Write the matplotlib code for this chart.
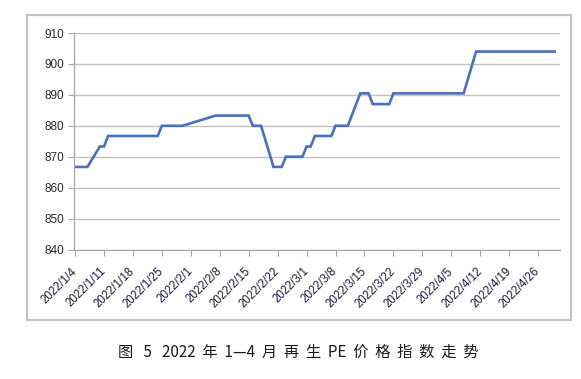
import numpy as np
import pandas as pd
import matplotlib
matplotlib.use("Agg")
import matplotlib.pyplot as plt
import matplotlib.dates as mdates
from matplotlib.patches import Rectangle

# breakpoints of the PE price index line
dates = ["2022-01-04", "2022-01-07", "2022-01-10", "2022-01-11", "2022-01-12",
         "2022-01-24", "2022-01-25", "2022-01-30", "2022-02-07", "2022-02-15",
         "2022-02-16", "2022-02-18", "2022-02-21", "2022-02-23", "2022-02-24",
         "2022-02-28", "2022-03-01", "2022-03-02", "2022-03-03", "2022-03-07",
         "2022-03-08", "2022-03-11", "2022-03-14", "2022-03-16", "2022-03-17",
         "2022-03-21", "2022-03-22", "2022-04-08", "2022-04-11", "2022-04-30"]
values = [866.7, 866.7, 873.3, 873.3, 876.7,
          876.7, 880.0, 880.0, 883.3, 883.3,
          880.0, 880.0, 866.7, 866.7, 870.0,
          870.0, 873.3, 873.3, 876.7, 876.7,
          880.0, 880.0, 890.5, 890.5, 887.0,
          887.0, 890.5, 890.5, 904.0, 904.0]
tick_dates = pd.date_range("2022-01-04", "2022-04-26", freq="7D")
tick_labels = [f"{d.year}/{d.month}/{d.day}" for d in tick_dates]
y_ticks = [840, 850, 860, 870, 880, 890, 900, 910]
caption = "图   5   2022  年  1—4  月  再  生  PE  价  格  指  数  走  势"

W, H = 581, 379
fig = plt.figure(figsize=(W / 100, H / 100), dpi=100)
fig.patch.set_facecolor("white")

# grey frame around the chart
fig.patches.append(Rectangle((27 / W, 1 - 320 / H), (571 - 27) / W, (320 - 15) / H,
                             transform=fig.transFigure, fill=False,
                             edgecolor="#c4c4c4", linewidth=1.6))

ax = fig.add_axes([74 / W, 1 - 249.5 / H, (560 - 74) / W, (249.5 - 33) / H])

x = mdates.date2num(pd.to_datetime(dates))
ax.plot(x, values, color="#4a70bf", linewidth=1.9, solid_joinstyle="miter")

x0 = mdates.date2num(pd.Timestamp("2022-01-04"))
ax.set_xlim(x0 - 0.25, x0 + 117.3)
ax.set_ylim(840, 910)

ax.set_yticks(y_ticks)
ax.set_yticklabels([str(v) for v in y_ticks],
                   fontsize=8.5, color="#2a2a2a", family=["Liberation Sans", "DejaVu Sans"])
ax.yaxis.grid(True, color="#c8c0b8", linewidth=1.0)
ax.set_axisbelow(True)

ax.set_xticks(mdates.date2num(tick_dates))
ax.set_xticklabels(tick_labels, rotation=45, ha="right", va="center",
                   rotation_mode="anchor", fontsize=8.3, color="#1a1a3a",
                   family=["Liberation Sans", "DejaVu Sans"])

for s in ["top", "right"]:
    ax.spines[s].set_visible(False)
for s in ["left", "bottom"]:
    ax.spines[s].set_color("#a8a8a8")
    ax.spines[s].set_linewidth(0.9)
ax.tick_params(axis="both", direction="out", length=4, width=0.8, color="#a8a8a8")
ax.tick_params(axis="y", pad=3)
ax.tick_params(axis="x", pad=10.5)

fig.text(298 / W, 1 - 352 / H, caption, ha="center", va="center", fontsize=11,
         color="#1a1a1a", family=["Noto Sans CJK SC", "DejaVu Sans"])

fig.savefig("out.png", dpi=100)
